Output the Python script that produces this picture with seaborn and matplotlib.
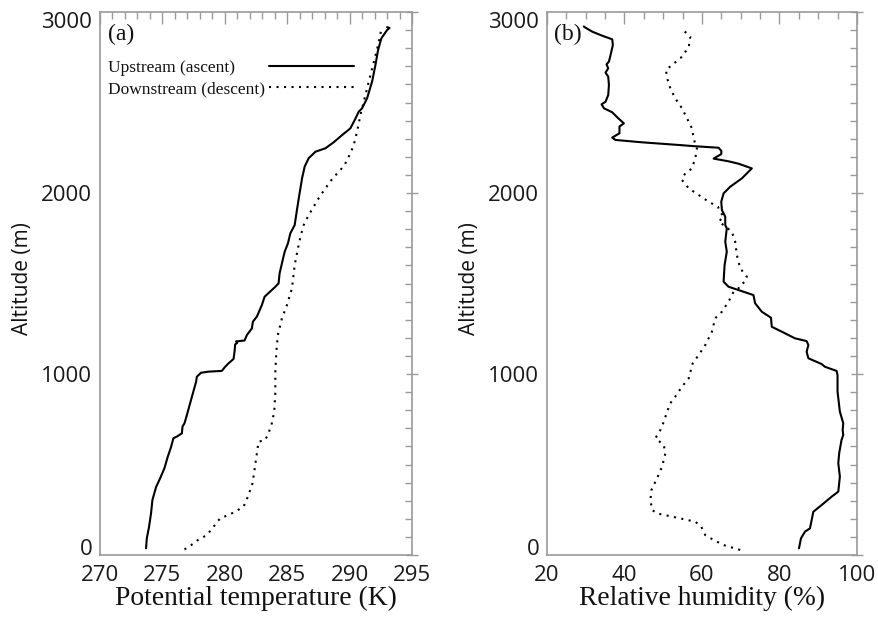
import matplotlib
matplotlib.use("Agg")
import matplotlib.pyplot as plt
import pandas as pd
import seaborn as sns
from matplotlib.ticker import MultipleLocator

# ---------------------------------------------------------------- data
# (a) potential temperature (K) against altitude (m)
up_theta = [273.69, 273.75, 273.93, 274.09, 274.20, 274.50, 274.82, 275.16, 275.43, 275.70,
            275.88, 276.15, 276.56, 276.61, 276.77, 276.96, 277.22, 277.44, 277.70, 277.76,
            278.10, 278.69, 279.76, 280.03, 280.30, 280.70, 280.78, 280.83, 281.00, 280.90,
            281.58, 281.77, 282.17, 282.25, 282.57, 282.97, 283.19, 283.77, 284.05, 284.31,
            284.39, 284.58, 284.80, 285.06, 285.25, 285.60, 285.78, 285.97, 286.19, 286.40,
            286.72, 287.26, 288.06, 288.72, 289.40, 290.06, 290.41, 290.73, 291.00, 291.40,
            291.80, 292.07, 292.28, 292.55, 293.00, 293.20, 293.00]
up_theta_alt = [37, 92, 156, 230, 304, 377, 424, 479, 543, 598,
                645, 654, 672, 709, 728, 773, 838, 893, 957, 985,
                1007, 1013, 1017, 1040, 1059, 1083, 1123, 1164, 1172, 1180,
                1185, 1215, 1252, 1289, 1317, 1381, 1427, 1464, 1482, 1501,
                1556, 1612, 1676, 1722, 1777, 1823, 1906, 1989, 2081, 2146,
                2192, 2228, 2247, 2280, 2320, 2357, 2403, 2449, 2468, 2523,
                2615, 2707, 2790, 2855, 2900, 2912, 2916]

down_theta = [276.77, 277.22, 277.76, 278.56, 279.10, 279.63, 280.30, 280.83, 281.50, 281.85,
              282.22, 282.38, 282.57, 282.70, 283.24, 283.50, 283.77, 283.96, 284.05, 284.05,
              284.13, 284.25, 284.58, 284.98, 285.38, 285.60, 285.86, 286.10, 286.32, 286.72,
              287.12, 287.52, 288.06, 288.64, 289.26, 289.60, 290.06, 290.33, 290.60, 290.87,
              291.13, 291.40, 291.67, 292.02, 292.34, 292.55]
down_theta_alt = [31, 50, 79, 110, 156, 203, 221, 239, 267, 322,
                  396, 470, 562, 626, 635, 672, 728, 792, 902, 1013,
                  1123, 1215, 1308, 1381, 1473, 1602, 1694, 1768, 1823, 1878,
                  1924, 1971, 2026, 2081, 2127, 2155, 2219, 2265, 2339, 2431,
                  2504, 2578, 2652, 2744, 2836, 2906]

# (b) relative humidity (%) against altitude (m)
up_rh = [85.03, 85.54, 86.57, 87.86, 88.30, 88.73, 90.87, 93.44, 95.17, 95.58,
         95.17, 95.40, 96.00, 96.45, 96.30, 96.45, 95.58, 94.98, 94.98, 94.73,
         91.72, 90.87, 87.45, 87.00, 87.45, 87.00, 84.00, 80.57, 78.00, 77.80,
         75.43, 73.70, 73.28, 68.56, 66.86, 65.57, 65.83, 66.40, 66.00, 66.40,
         66.00, 66.00, 65.14, 64.97, 65.57, 67.30, 70.30, 72.86, 69.40, 66.86,
         63.00, 64.97, 65.00, 64.30, 57.75, 54.84, 44.55, 37.69, 36.83, 38.70,
         38.70, 39.84, 38.37, 36.83, 34.70, 34.08, 35.10, 35.80, 35.98, 35.80,
         35.10, 35.80, 35.37, 35.98, 36.40, 37.00, 36.83, 34.26, 31.70, 29.96, 29.50]
up_rh_alt = [37, 92, 129, 147, 193, 239, 276, 322, 350, 433,
             507, 562, 635, 663, 690, 728, 792, 902, 994, 1017,
             1040, 1055, 1087, 1123, 1160, 1182, 1197, 1234, 1261, 1311,
             1344, 1391, 1436, 1470, 1482, 1510, 1602, 1676, 1731, 1805,
             1823, 1869, 1906, 1952, 1998, 2035, 2081, 2136, 2162, 2175,
             2190, 2215, 2232, 2250, 2259, 2264, 2280, 2293, 2306, 2330,
             2367, 2385, 2413, 2446, 2468, 2490, 2504, 2541, 2597, 2643,
             2665, 2689, 2711, 2726, 2762, 2818, 2849, 2869, 2891, 2913, 2920]

down_rh = [69.85, 65.57, 63.00, 60.84, 59.82, 58.27, 53.13, 48.40, 47.12, 46.68,
           46.94, 48.40, 49.70, 50.55, 50.13, 47.98, 49.27, 50.13, 51.00, 51.80,
           53.10, 54.84, 56.56, 57.60, 59.14, 60.84, 62.56, 63.42, 65.14, 66.86,
           68.15, 69.43, 69.85, 71.14, 71.57, 69.85, 69.00, 68.56, 67.70, 65.57,
           64.28, 65.57, 64.70, 64.10, 61.70, 59.14, 56.56, 54.84, 55.28, 57.40,
           58.27, 58.70, 58.27, 57.85, 57.40, 56.13, 54.84, 53.10, 51.83, 51.00,
           50.70, 52.27, 54.84, 56.60, 56.98, 54.84]
down_rh_alt = [28, 55, 83, 110, 156, 184, 208, 230, 249, 304,
               359, 424, 488, 562, 608, 645, 691, 736, 792, 838,
               875, 930, 976, 1059, 1105, 1160, 1234, 1308, 1344, 1400,
               1455, 1473, 1492, 1510, 1538, 1584, 1657, 1731, 1786, 1823,
               1841, 1869, 1897, 1924, 1952, 1989, 2026, 2072, 2099, 2136,
               2192, 2247, 2270, 2302, 2357, 2413, 2468, 2523, 2578, 2634,
               2680, 2707, 2753, 2808, 2864, 2906]

legend_labels = ["Upstream (ascent)", "Downstream (descent)"]

# ---------------------------------------------------------------- style
sns.set_style("white")
plt.rcParams["font.family"] = ["Open Sans", "DejaVu Sans"]
plt.rcParams["text.color"] = "#111111"
plt.rcParams["axes.labelcolor"] = "#111111"
SERIF = ["Liberation Serif", "DejaVu Serif"]
GRID_GREY = "#9a9a9a"

SOLID = dict(color="black", lw=1.5, linestyle="-")
DOTTED = dict(color="black", lw=1.5, linestyle=(0, (1, 2.6)))


def profile(ax, values, alt, style):
    df = pd.DataFrame({"value": values, "alt": alt})
    sns.lineplot(data=df, x="value", y="alt", sort=False, estimator=None,
                 ax=ax, **style)


def frame(ax, xlim, xmajor, xminor, xlabel):
    ax.set_xlim(*xlim)
    ax.set_ylim(0, 3000)
    ax.xaxis.set_major_locator(MultipleLocator(xmajor))
    ax.xaxis.set_minor_locator(MultipleLocator(xminor))
    ax.yaxis.set_major_locator(MultipleLocator(1000))
    ax.yaxis.set_minor_locator(MultipleLocator(100))
    for sp in ax.spines.values():
        sp.set_color(GRID_GREY)
        sp.set_linewidth(1.2)
    ax.tick_params(which="both", direction="in", top=True, right=True,
                   color=GRID_GREY, width=1.0, labelsize=16, labelcolor="#1a1a1a")
    ax.tick_params(which="major", length=8.5)
    ax.tick_params(which="minor", length=5)
    ax.tick_params(axis="y", which="major", direction="inout", length=9, pad=1)
    ax.tick_params(axis="x", which="major", pad=7)
    ax.set_xlabel(xlabel, family=SERIF, fontsize=19.8, labelpad=0)
    ax.set_ylabel("Altitude (m)", fontsize=15, labelpad=6)
    ax.yaxis.label.set_y(0.51)


def tuck_end_labels(ax):
    # the outermost altitude labels sit inside the frame
    for lab in ax.get_yticklabels():
        if lab.get_text() == "0":
            lab.set_va("baseline")
        elif lab.get_text() == "3000":
            lab.set_va("top")


fig = plt.figure(figsize=(8.79, 6.17), dpi=100)
ax_a = fig.add_axes([100 / 879, 62 / 617, 312 / 879, 543 / 617])
ax_b = fig.add_axes([547 / 879, 62 / 617, 310 / 879, 543 / 617])

# ---------------------------------------------------------------- (a)
profile(ax_a, up_theta, up_theta_alt, SOLID)
profile(ax_a, down_theta, down_theta_alt, DOTTED)
frame(ax_a, (270, 295), 5, 1, "Potential temperature (K)")
ax_a.text(0.025, 0.978, "(a)", transform=ax_a.transAxes, ha="left", va="top",
          family=SERIF, fontsize=17)

# legend: left-aligned labels with the line keys set in a column of their own
lines = ax_a.get_lines()[:2]
LEG = dict(loc="upper left", borderaxespad=0, borderpad=0, handletextpad=0,
           labelspacing=0.28, frameon=False, prop={"family": SERIF, "size": 12.5})
leg_text = ax_a.legend(lines, legend_labels, bbox_to_anchor=(0.025, 0.912),
                       handlelength=0, **LEG)
ax_a.add_artist(leg_text)
ax_a.legend(lines, ["", ""], bbox_to_anchor=(0.542, 0.912), handlelength=4.9, **LEG)

# ---------------------------------------------------------------- (b)
profile(ax_b, up_rh, up_rh_alt, SOLID)
profile(ax_b, down_rh, down_rh_alt, DOTTED)
frame(ax_b, (20, 100), 20, 5, "Relative humidity (%)")
ax_b.text(0.022, 0.978, "(b)", transform=ax_b.transAxes, ha="left", va="top",
          family=SERIF, fontsize=17)

fig.canvas.draw()
tuck_end_labels(ax_a)
tuck_end_labels(ax_b)

fig.savefig("out.png", dpi=100)
